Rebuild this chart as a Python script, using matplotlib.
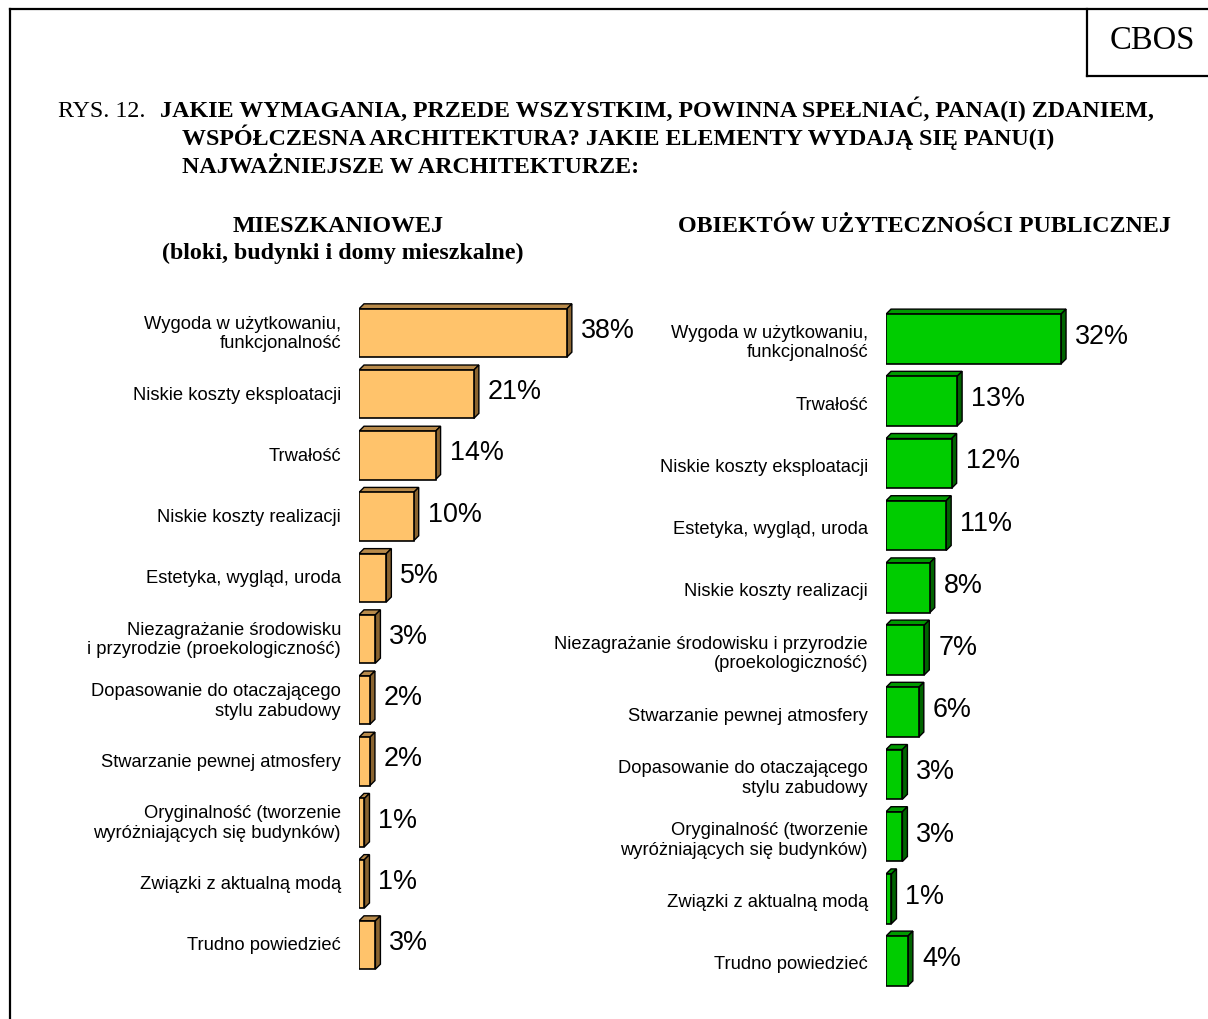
import matplotlib
matplotlib.use("Agg")
import matplotlib.pyplot as plt
from matplotlib.patches import Polygon
from matplotlib.lines import Line2D

# ---------------- data ----------------
left_labels = [
    "Wygoda w użytkowaniu,\nfunkcjonalność",
    "Niskie koszty eksploatacji",
    "Trwałość",
    "Niskie koszty realizacji",
    "Estetyka, wygląd, uroda",
    "Niezagrażanie środowisku\ni przyrodzie (proekologiczność)",
    "Dopasowanie do otaczającego\nstylu zabudowy",
    "Stwarzanie pewnej atmosfery",
    "Oryginalność (tworzenie\nwyróżniających się budynków)",
    "Związki z aktualną modą",
    "Trudno powiedzieć",
]
left_values = [38, 21, 14, 10, 5, 3, 2, 2, 1, 1, 3]

right_labels = [
    "Wygoda w użytkowaniu,\nfunkcjonalność",
    "Trwałość",
    "Niskie koszty eksploatacji",
    "Estetyka, wygląd, uroda",
    "Niskie koszty realizacji",
    "Niezagrażanie środowisku i przyrodzie\n(proekologiczność)",
    "Stwarzanie pewnej atmosfery",
    "Dopasowanie do otaczającego\nstylu zabudowy",
    "Oryginalność (tworzenie\nwyróżniających się budynków)",
    "Związki z aktualną modą",
    "Trudno powiedzieć",
]
right_values = [32, 13, 12, 11, 8, 7, 6, 3, 3, 1, 4]

title_prefix = "RYS. 12."
title_lines = [
    "JAKIE WYMAGANIA, PRZEDE WSZYSTKIM, POWINNA SPEŁNIAĆ, PANA(I) ZDANIEM,",
    "WSPÓŁCZESNA ARCHITEKTURA? JAKIE ELEMENTY WYDAJĄ SIĘ PANU(I)",
    "NAJWAŻNIEJSZE W ARCHITEKTURZE:",
]
left_heading = "MIESZKANIOWEJ\n(bloki, budynki i domy mieszkalne)"
right_heading = "OBIEKTÓW UŻYTECZNOŚCI PUBLICZNEJ"
logo = "CBOS"

# ---------------- figure ----------------
W, H = 1208, 1020
fig = plt.figure(figsize=(W / 100, H / 100), dpi=100)
fig.patch.set_facecolor("white")

SANS = ["Liberation Sans", "DejaVu Sans"]
SERIF = ["Liberation Serif", "DejaVu Serif"]
TITLE_FS = 17.3


def fx(px):
    return px / W


def fy(py):
    return 1 - py / H


# frame lines
fig.add_artist(Line2D([fx(10), fx(1208)], [fy(10), fy(10)], color="black", lw=1.6))
fig.add_artist(Line2D([fx(10), fx(10)], [fy(10), fy(1020)], color="black", lw=1.6))
fig.add_artist(Line2D([fx(1087), fx(1087)], [fy(10), fy(77)], color="black", lw=1.6))
fig.add_artist(Line2D([fx(1087), fx(1208)], [fy(77), fy(77)], color="black", lw=1.6))
fig.text(fx(1152), fy(41), logo, family=SERIF, fontsize=23.5, ha="center", va="center")

# title
fig.text(fx(58), fy(117), title_prefix, family=SERIF, fontsize=TITLE_FS, ha="left", va="baseline")
title_x = [160, 182, 182]
title_y = [117, 145, 173]
for t, x, y in zip(title_lines, title_x, title_y):
    fig.text(fx(x), fy(y), t, family=SERIF, fontsize=TITLE_FS, fontweight="bold",
             ha="left", va="baseline")

lh = left_heading.split("\n")
fig.text(fx(338), fy(232), lh[0], family=SERIF, fontsize=TITLE_FS, fontweight="bold",
         ha="center", va="baseline")
fig.text(fx(343), fy(259), lh[1], family=SERIF, fontsize=TITLE_FS, fontweight="bold",
         ha="center", va="baseline")
fig.text(fx(925), fy(232), right_heading, family=SERIF, fontsize=TITLE_FS, fontweight="bold",
         ha="center", va="baseline")

PX_PER_PCT = 5.47


def panel(x0, x1, ytop, ybot, labels, values, front, top, side, bar_h, lab_dy):
    ax = fig.add_axes([fx(x0), fy(ybot), fx(x1) - fx(x0), fy(ytop) - fy(ybot)])
    n = len(values)
    ax.set_xlim(0, (x1 - x0) / PX_PER_PCT)
    ax.set_ylim(n - 0.5, -0.5)
    ax.axis("off")
    slot_px = (ybot - ytop) / n
    dx = 5 / PX_PER_PCT
    dy = 5 / slot_px
    ys = list(range(n))
    for i, v in zip(ys, values):
        yt = i - bar_h / 2
        yb = i + bar_h / 2
        ax.add_patch(Polygon([(0, yt), (v, yt), (v + dx, yt - dy), (dx, yt - dy)],
                             closed=True, facecolor=top, edgecolor="black", lw=1.0, zorder=2))
        ax.add_patch(Polygon([(v, yt), (v + dx, yt - dy), (v + dx, yb - dy), (v, yb)],
                             closed=True, facecolor=side, edgecolor="black", lw=1.0, zorder=2))
    ax.barh(ys, values, height=bar_h, left=0, color=front, edgecolor="black",
            linewidth=1.2, zorder=3)
    for i, (lab, v) in enumerate(zip(labels, values)):
        ax.annotate(lab, xy=(0, i), xytext=(-18, lab_dy), textcoords="offset pixels",
                    ha="right", va="center", fontsize=13.2, family=SANS,
                    linespacing=1.2, annotation_clip=False)
        ax.annotate(f"{v}%", xy=(v + dx, i), xytext=(9, 3), textcoords="offset pixels",
                    ha="left", va="center", fontsize=19.4, family=SANS,
                    annotation_clip=False)
    return ax


panel(359, 660, 303.4, 976.6, left_labels, left_values,
      "#FFC36B", "#B88A4A", "#8A6430", 0.79, 0)
panel(886, 1200, 308.9, 993.1, right_labels, right_values,
      "#00CC00", "#009A00", "#006400", 0.80, -3)

fig.savefig("out.png", dpi=100, facecolor="white")
